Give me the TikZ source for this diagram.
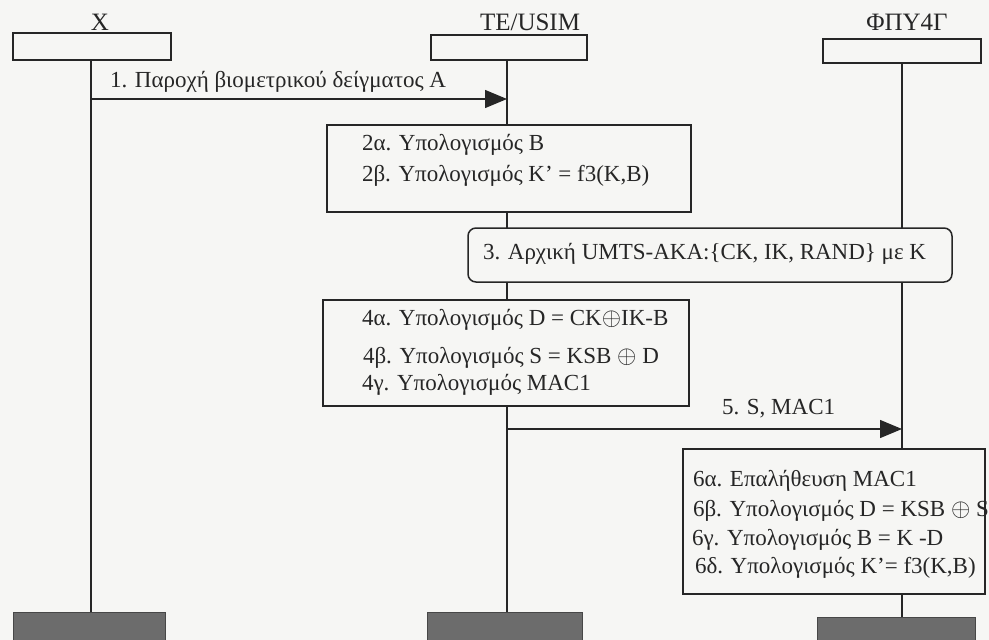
\documentclass[tikz,border=0pt]{standalone}
\usepackage{fontspec}
\setmainfont{Liberation Serif}
\usetikzlibrary{arrows.meta}
\definecolor{paper}{RGB}{246,246,244}
\definecolor{ink}{RGB}{38,38,38}
\definecolor{endfill}{RGB}{108,108,108}
\begin{document}
\begin{tikzpicture}[x=1pt,y=-1pt,
  every node/.style={inner sep=0pt, outer sep=0pt},
  lifeline/.style={draw=ink, line width=1.3pt},
  headbox/.style={draw=ink, line width=1.5pt, fill=paper, rectangle},
  stepbox/.style={draw=ink, line width=1.5pt, fill=paper, rectangle},
  akabox/.style={stepbox, rounded corners=8pt},
  endbox/.style={draw=ink!85, line width=1pt, fill=endfill, rectangle},
  msg/.style={draw=ink, line width=1.3pt, -{Triangle[length=22pt,width=18pt]}},
  txt/.style={anchor=base west, font=\fontsize{23}{23}\selectfont, text=ink},
  ttl/.style={anchor=base, font=\fontsize{25}{25}\selectfont, text=ink},
]
\fill[paper] (0,0) rectangle (989,640);
\useasboundingbox (0,0) rectangle (989,640);

% participants
\node[ttl] (xlab) at (100,30) {X};
\node[ttl] (telab) at (530,30) {TE/USIM};
\node[ttl] (filab) at (907,30) {ΦΠΥ4Γ};

\node[headbox, minimum width=158pt, minimum height=27pt] (xhead) at (92,46.5) {};
\node[headbox, minimum width=156pt, minimum height=25pt] (tehead) at (509,47.5) {};
\node[headbox, minimum width=158pt, minimum height=24pt] (fihead) at (902,51) {};

\node[endbox, minimum width=152pt, minimum height=30pt] (xend) at (89,627) {};
\node[endbox, minimum width=155pt, minimum height=30pt] (teend) at (504.5,627) {};
\node[endbox, minimum width=158pt, minimum height=26pt] (fiend) at (896,630) {};

% lifelines
\draw[lifeline] (xhead.south -| 91,0) -- (xend.north -| 91,0);
\draw[lifeline] (tehead.south -| 507,0) -- (teend.north -| 507,0);
\draw[lifeline] (fihead.south -| 902,0) -- (fiend.north -| 902,0);

% message 1
\coordinate (m1a) at (91,99);
\coordinate (m1b) at (507,99);
\draw[msg] (m1a) -- (m1b);
\node[txt] (m1lab) at (110,87) {1. Παροχή βιομετρικού δείγματος A};

% step 2
\node[stepbox, minimum width=364pt, minimum height=87pt] (s2) at (509,168.5) {};
\node[txt] (s2a) at (362,150) {2α. Υπολογισμός B};
\node[txt] (s2b) at (362,181) {2β. Υπολογισμός K’ = f3(K,B)};

% step 3
\node[akabox, minimum width=484pt, minimum height=54pt] (s3) at (710,255) {};
\node[txt] (s3a) at (483,259) {3. Αρχική UMTS-AKA:\{CK, IK, RAND\} με K};

% step 4
\node[stepbox, minimum width=366pt, minimum height=106pt] (s4) at (506,353) {};
\node[txt] (s4a) at (362,325) {4α. Υπολογισμός D = CK$\oplus$IK-B};
\node[txt] (s4b) at (363,363) {4β. Υπολογισμός S = KSB $\oplus$ D};
\node[txt] (s4c) at (362,390) {4γ. Υπολογισμός MAC1};

% message 5
\coordinate (m5a) at (507,429);
\coordinate (m5b) at (902,429);
\draw[msg] (m5a) -- (m5b);
\node[txt] (m5lab) at (722,414) {5. S, MAC1};

% step 6
\node[stepbox, minimum width=302pt, minimum height=145pt] (s6) at (834,521.5) {};
\node[txt] (s6a) at (693,486) {6α. Επαλήθευση MAC1};
\node[txt] (s6b) at (693,516) {6β. Υπολογισμός D = KSB $\oplus$ S};
\node[txt] (s6c) at (692,545) {6γ. Υπολογισμός B = K -D};
\node[txt] (s6d) at (695,573) {6δ. Υπολογισμός K’= f3(K,B)};
\end{tikzpicture}
\end{document}
